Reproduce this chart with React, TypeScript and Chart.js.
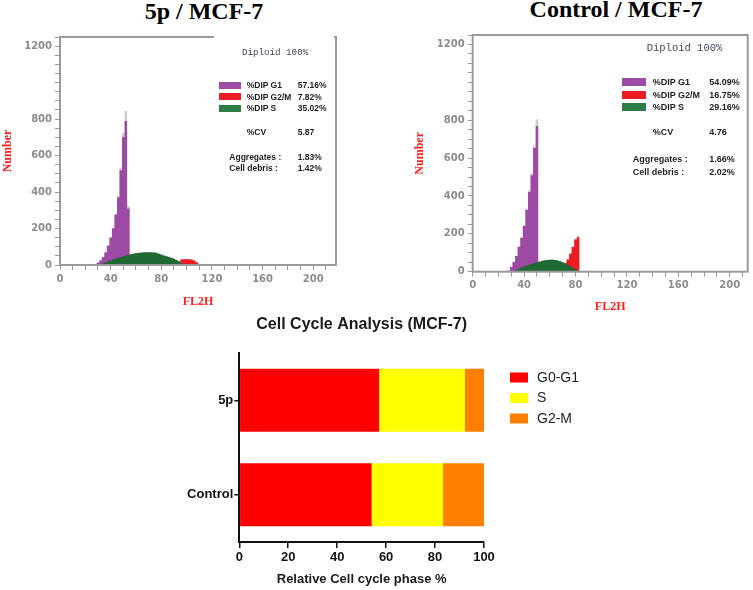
import React, { useEffect, useRef } from 'react';
import { Chart, registerables } from 'chart.js';

Chart.register(...registerables);

// ---------- Histogram data (FL2H channel bins) ----------
const fl2hBins = [26, 28, 30, 32, 34, 36, 38, 40, 42, 44, 46, 48, 50, 52, 54, 56, 58, 60, 62, 64, 66, 68, 70, 72, 74, 76, 78, 80, 82, 84, 86, 88, 90, 92, 94, 96, 98, 100, 102, 104, 106, 108, 110, 112, 114];

// 5p / MCF-7
const rawCounts5p = [0, 0, 14, 27, 45, 71, 108, 155, 206, 282, 378, 535, 725, 845, 325, 61, 63, 65, 67, 69, 70, 71, 71, 71, 70, 68, 63, 58, 53, 49, 45, 41, 35, 29, 22, 32, 33, 34, 33, 31, 26, 17, 8, 0, 0];
const g1Counts5p = [0, 0, 12, 25, 42, 68, 105, 150, 200, 275, 370, 520, 700, 790, 310, 0, 0, 0, 0, 0, 0, 0, 0, 0, 0, 0, 0, 0, 0, 0, 0, 0, 0, 0, 0, 0, 0, 0, 0, 0, 0, 0, 0, 0, 0];
const sCounts5p = [0, 0, 0, 5, 10, 15, 20, 25, 30, 35, 40, 44, 48, 52, 56, 59, 62, 64, 66, 68, 69, 70, 70, 70, 69, 67, 62, 57, 52, 48, 44, 40, 34, 28, 20, 10, 3, 0, 0, 0, 0, 0, 0, 0, 0];
const g2mCounts5p = [0, 0, 0, 0, 0, 0, 0, 0, 0, 0, 0, 0, 0, 0, 0, 0, 0, 0, 0, 0, 0, 0, 0, 0, 0, 0, 0, 0, 0, 0, 0, 0, 0, 0, 0, 30, 31, 32, 31, 29, 24, 15, 6, 0, 0];

// Control / MCF-7
const rawCountsCtrl = [0, 6, 27, 53, 86, 134, 183, 247, 333, 430, 520, 665, 805, 55, 58, 61, 63, 64, 64, 63, 60, 56, 51, 47, 68, 98, 134, 175, 190, 0, 0, 0, 0, 0, 0, 0, 0, 0, 0, 0, 0, 0, 0, 0, 0];
const g1CountsCtrl = [0, 5, 25, 51, 83, 130, 178, 241, 326, 421, 510, 653, 770, 0, 0, 0, 0, 0, 0, 0, 0, 0, 0, 0, 0, 0, 0, 0, 0, 0, 0, 0, 0, 0, 0, 0, 0, 0, 0, 0, 0, 0, 0, 0, 0];
const sCountsCtrl = [0, 0, 0, 3, 10, 16, 22, 28, 33, 38, 42, 46, 50, 53, 57, 60, 62, 63, 63, 62, 59, 55, 50, 44, 37, 29, 21, 13, 5, 0, 0, 0, 0, 0, 0, 0, 0, 0, 0, 0, 0, 0, 0, 0, 0];
const g2mCountsCtrl = [0, 0, 0, 0, 0, 0, 0, 0, 0, 0, 0, 0, 0, 0, 0, 0, 0, 0, 0, 0, 0, 0, 0, 45, 65, 95, 130, 170, 182, 0, 0, 0, 0, 0, 0, 0, 0, 0, 0, 0, 0, 0, 0, 0, 0];

const histYTickLabels = [0, 200, 400, 600, 800, 1200];
const histXTickLabels = [0, 40, 80, 120, 160, 200];

// ---------- Summary (ModFit) ----------
const phaseNames = ['%DIP G1', '%DIP G2/M', '%DIP S'];
const cvValues = ['5.87', '4.76'];
const aggregatesValues = ['1.83%', '1.66%'];
const cellDebrisValues = ['1.42%', '2.02%'];

// ---------- Stacked bar data ----------
const groups = ['5p', 'Control'];
const phaseLabels = ['G0-G1', 'S', 'G2-M'];
const g0g1Pct = [57.16, 54.09];
const sPct = [35.02, 29.16];
const g2mPct = [7.82, 16.75];
const barTicks = [0, 20, 40, 60, 80, 100];

const PURPLE = '#9c4aa3';
const RED = '#ec1c24';
const GREEN = '#1f6a34';
const GREEN_SW = '#2e7b47';
const RAW = '#cdcdcd';
const SANS = '"Liberation Sans", Arial, Helvetica, sans-serif';
const SERIF = '"Liberation Serif", "Times New Roman", serif';
const HISTFONT = '"DejaVu Sans", Verdana, sans-serif';
const MONO = '"Liberation Mono", "Courier New", monospace';

const framePlugin = {
  id: 'frameBox',
  afterDatasetsDraw(chart: any) {
    const { ctx, chartArea: a } = chart;
    ctx.save();
    ctx.strokeStyle = '#9a9a9a';
    ctx.lineWidth = 2;
    ctx.strokeRect(a.left, a.top, a.right - a.left, a.bottom - a.top);
    ctx.restore();
  },
};

type HistProps = {
  left: number; top: number; width: number; height: number;
  padTop: number; padRight: number; yAxisWidth: number; xAxisHeight: number;
  yTitlePad: number; xTitlePad: number; xMax: number;
  raw: number[]; g1: number[]; g2m: number[]; s: number[];
};

function Histogram(p: HistProps) {
  const ref = useRef<HTMLCanvasElement>(null);
  useEffect(() => {
    const pts = (arr: number[]) => fl2hBins.map((x, i) => ({ x, y: arr[i] }));
    const ds = (label: string, arr: number[], color: string, order: number) => ({
      label,
      data: pts(arr),
      stepped: 'middle',
      fill: 'origin',
      backgroundColor: color,
      borderColor: 'rgba(0,0,0,0)',
      borderWidth: 0,
      pointRadius: 0,
      order,
    });
    const tickFont = { family: HISTFONT, size: 10, weight: 'bold' };
    const chart = new Chart(ref.current as HTMLCanvasElement, {
      type: 'line',
      data: {
        datasets: [
          ds('Data', p.raw, RAW, 3),
          ds(phaseNames[0], p.g1, PURPLE, 2),
          ds(phaseNames[1], p.g2m, RED, 2),
          ds(phaseNames[2], p.s, GREEN, 1),
        ] as any,
      },
      options: {
        responsive: false,
        animation: false,
        events: [],
        layout: { padding: { top: p.padTop, right: p.padRight, left: 0, bottom: 0 } },
        plugins: { legend: { display: false }, tooltip: { enabled: false } },
        scales: {
          x: {
            type: 'linear',
            min: 0,
            max: p.xMax,
            afterFit: (sc: any) => { sc.height = p.xAxisHeight; },
            ticks: {
              stepSize: 10,
              autoSkip: false,
              includeBounds: false,
              maxRotation: 0,
              color: '#8c8c8c',
              padding: 3,
              font: tickFont,
              callback: (v: any) => (histXTickLabels.includes(Number(v)) ? String(v) : ''),
            },
            grid: { drawOnChartArea: false, drawTicks: true, tickLength: 5, color: '#9a9a9a' },
            border: { display: false },
            title: {
              display: true, text: 'FL2H', color: '#ff1f1f',
              font: { family: SERIF, size: 12, weight: 'bold' },
              padding: { top: 0, bottom: p.xTitlePad },
            },
          },
          y: {
            type: 'linear',
            min: 0,
            max: 1250,
            afterFit: (sc: any) => { sc.width = p.yAxisWidth; },
            ticks: {
              stepSize: 50,
              autoSkip: false,
              includeBounds: false,
              color: '#8c8c8c',
              padding: 3,
              font: tickFont,
              callback: (v: any) => (histYTickLabels.includes(Number(v)) ? String(v) : ''),
            },
            grid: { drawOnChartArea: false, drawTicks: true, tickLength: 5, color: '#9a9a9a' },
            border: { display: false },
            title: {
              display: true, text: 'Number', color: '#ff1f1f',
              font: { family: SERIF, size: 12, weight: 'bold' },
              padding: { top: p.yTitlePad, bottom: 0 },
            },
          },
        },
      } as any,
      plugins: [framePlugin],
    });
    return () => chart.destroy();
  }, []);
  return (
    <canvas
      ref={ref}
      width={p.width}
      height={p.height}
      style={{ position: 'absolute', left: p.left, top: p.top, width: p.width, height: p.height }}
    />
  );
}

type StatsProps = {
  idx: number; fontSize: number; monoSize: number;
  diploidX: number; diploidY: number;
  swX: number; swW: number; swH: number; rows: number[];
  labelX: number; valueX: number; cvY: number; aggY: number; debrisY: number; aggX: number;
};

function T({ x, y, size, children, family = SANS, bold = true, color = '#1e1e1e' }: any) {
  return (
    <div
      style={{
        position: 'absolute', left: x, top: y, transform: 'translateY(-50%)',
        fontFamily: family, fontSize: size, fontWeight: bold ? 700 : 400, color,
        lineHeight: 1, whiteSpace: 'nowrap',
      }}
    >
      {children}
    </div>
  );
}

function Stats(p: StatsProps) {
  const vals = [g0g1Pct[p.idx], g2mPct[p.idx], sPct[p.idx]].map((v) => v.toFixed(2) + '%');
  const colors = [PURPLE, RED, GREEN_SW];
  return (
    <>
      <T x={p.diploidX} y={p.diploidY} size={p.monoSize} family={MONO} bold={false} color="#40465a">Diploid 100%</T>
      {phaseNames.map((n, i) => (
        <React.Fragment key={n}>
          <div style={{ position: 'absolute', left: p.swX, top: p.rows[i] - p.swH / 2, width: p.swW, height: p.swH, background: colors[i] }} />
          <T x={p.labelX} y={p.rows[i]} size={p.fontSize}>{n}</T>
          <T x={p.valueX} y={p.rows[i]} size={p.fontSize}>{vals[i]}</T>
        </React.Fragment>
      ))}
      <T x={p.labelX} y={p.cvY} size={p.fontSize}>%CV</T>
      <T x={p.valueX} y={p.cvY} size={p.fontSize}>{cvValues[p.idx]}</T>
      <T x={p.aggX} y={p.aggY} size={p.fontSize}>Aggregates :</T>
      <T x={p.valueX} y={p.aggY} size={p.fontSize}>{aggregatesValues[p.idx]}</T>
      <T x={p.aggX} y={p.debrisY} size={p.fontSize}>Cell debris :</T>
      <T x={p.valueX} y={p.debrisY} size={p.fontSize}>{cellDebrisValues[p.idx]}</T>
    </>
  );
}

const sideLegendPlugin = {
  id: 'sideLegend',
  afterDraw(chart: any) {
    const { ctx, chartArea } = chart;
    ctx.save();
    chart.data.datasets.forEach((d: any, i: number) => {
      const y = chartArea.top + 24.5 + i * 20.5;
      const x = chartArea.right + 26;
      ctx.fillStyle = d.backgroundColor;
      ctx.fillRect(x, y - 5, 18, 10);
      ctx.fillStyle = '#222';
      ctx.font = '14px ' + SANS;
      ctx.textBaseline = 'middle';
      ctx.textAlign = 'left';
      ctx.fillText(d.label, x + 27, y + 0.5);
    });
    ctx.restore();
  },
};

function StackedBars() {
  const ref = useRef<HTMLCanvasElement>(null);
  useEffect(() => {
    const chart = new Chart(ref.current as HTMLCanvasElement, {
      type: 'bar',
      data: {
        labels: groups,
        datasets: [
          { label: phaseLabels[0], data: g0g1Pct, backgroundColor: '#ff0000' },
          { label: phaseLabels[1], data: sPct, backgroundColor: '#ffff00' },
          { label: phaseLabels[2], data: g2mPct, backgroundColor: '#ff8000' },
        ],
      },
      options: {
        indexAxis: 'y',
        responsive: false,
        animation: false,
        events: [],
        layout: { padding: { left: 0, right: 269, top: 0, bottom: 0 } },
        datasets: { bar: { categoryPercentage: 1, barPercentage: 0.667, borderWidth: 0 } },
        plugins: {
          legend: { display: false },
          tooltip: { enabled: false },
          title: {
            display: true,
            fullSize: false,
            text: 'Cell Cycle Analysis (MCF-7)',
            color: '#1a1a1a',
            font: { family: SANS, size: 16, weight: 'bold' },
            padding: { top: 5, bottom: 18.8 },
          },
        },
        scales: {
          x: {
            stacked: true,
            min: 0,
            max: 100,
            afterFit: (sc: any) => { sc.height = 48; },
            afterBuildTicks: (sc: any) => { sc.ticks = barTicks.map((v) => ({ value: v })); },
            ticks: { color: '#111', padding: 2, maxRotation: 0, font: { family: SANS, size: 13, weight: 'bold' } },
            grid: { drawOnChartArea: false, drawTicks: true, tickLength: 6, color: '#111', lineWidth: 1.5 },
            border: { color: '#111', width: 2 },
            title: {
              display: true,
              text: 'Relative Cell cycle phase %',
              color: '#1a1a1a',
              font: { family: SANS, size: 13, weight: 'bold' },
              padding: { top: 0, bottom: 2.6 },
            },
          },
          y: {
            stacked: true,
            afterFit: (sc: any) => { sc.width = 59.3; },
            ticks: { color: '#111', padding: 1, font: { family: SANS, size: 13, weight: 'bold' } },
            grid: { drawOnChartArea: false, drawTicks: true, tickLength: 5, offset: false, color: '#111', lineWidth: 1.5 },
            border: { color: '#111', width: 2 },
          },
        },
      } as any,
      plugins: [sideLegendPlugin],
    });
    return () => chart.destroy();
  }, []);
  return (
    <canvas
      ref={ref}
      width={573}
      height={280}
      style={{ position: 'absolute', left: 180, top: 310, width: 573, height: 280 }}
    />
  );
}

export default function App() {
  return (
    <div style={{ position: 'absolute', left: 0, top: 0, width: 753, height: 590, background: '#fff', overflow: 'hidden' }}>
      <Histogram
        left={0} top={28} width={345} height={287}
        padTop={9} padRight={9} yAxisWidth={60} xAxisHeight={50}
        yTitlePad={1} xTitlePad={5.8} xMax={218}
        raw={rawCounts5p} g1={g1Counts5p} g2m={g2mCounts5p} s={sCounts5p}
      />
      <Histogram
        left={405} top={26} width={348} height={290}
        padTop={9} padRight={5.3} yAxisWidth={67.7} xAxisHeight={44.3}
        yTitlePad={7.8} xTitlePad={1.5} xMax={214}
        raw={rawCountsCtrl} g1={g1CountsCtrl} g2m={g2mCountsCtrl} s={sCountsCtrl}
      />
      <div style={{ position: 'absolute', left: 214, top: 34, width: 120, height: 6, background: '#fff' }} />
      <Stats
        idx={0} fontSize={8.5} monoSize={9.2} diploidX={242} diploidY={53}
        swX={219} swW={22} swH={7} rows={[85, 96.7, 108.3]}
        labelX={246.7} valueX={297.7} cvY={132.3} aggY={156.7} debrisY={168.3} aggX={229.3}
      />
      <Stats
        idx={1} fontSize={9} monoSize={10.5} diploidX={646.7} diploidY={48.3}
        swX={621.7} swW={24.3} swH={8} rows={[81.7, 95, 107.3]}
        labelX={652.7} valueX={709.3} cvY={132.3} aggY={159} debrisY={171.7} aggX={632.7}
      />
      <div style={{ position: 'absolute', left: 204, top: -1, transform: 'translateX(-50%)', fontFamily: SERIF, fontWeight: 700, fontSize: 24, lineHeight: 1, whiteSpace: 'nowrap', color: '#000' }}>
        5p / MCF-7
      </div>
      <div style={{ position: 'absolute', left: 616, top: -3, transform: 'translateX(-50%)', fontFamily: SERIF, fontWeight: 700, fontSize: 24, lineHeight: 1, whiteSpace: 'nowrap', color: '#000' }}>
        Control / MCF-7
      </div>
      <StackedBars />
    </div>
  );
}
